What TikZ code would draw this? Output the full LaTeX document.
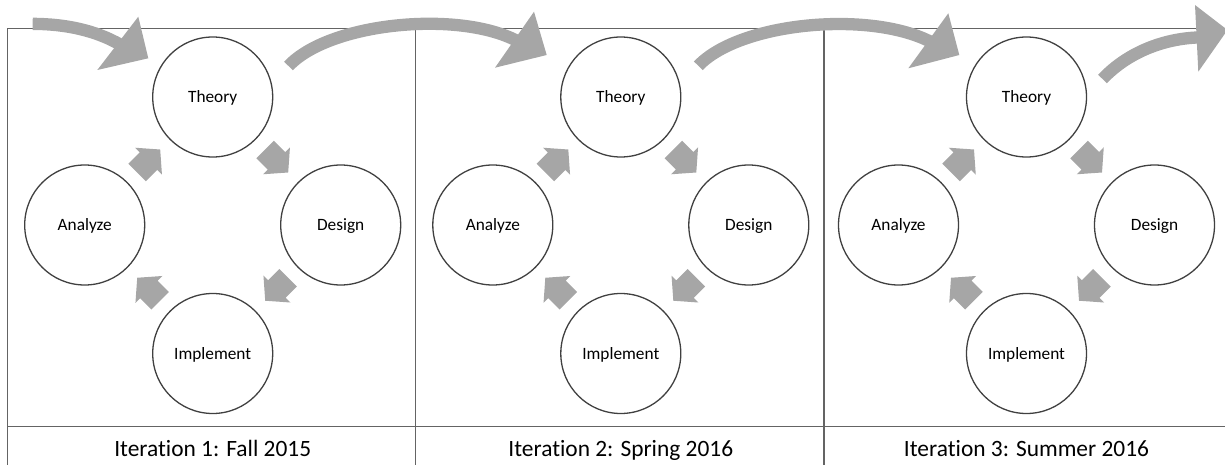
\documentclass[tikz,border=0pt]{standalone}
\usepackage{fontspec}
\setmainfont{Carlito}[Ligatures={NoCommon}]
\usetikzlibrary{calc}
\definecolor{arrowgray}{HTML}{A6A6A6}
\definecolor{linegray}{HTML}{646464}
\definecolor{circgray}{HTML}{404040}
\tikzset{
  stage/.style={circle, draw=circgray, line width=1.3pt, minimum size=120pt, inner sep=0pt,
    font=\fontsize{17.3pt}{20pt}\selectfont, text height=11.1pt, text depth=0pt},
  iterlabel/.style={anchor=base, inner sep=0pt, font=\fontsize{23.4pt}{28pt}\selectfont},
  tableline/.style={draw=linegray, line width=1.3pt},
  band/.style={draw=arrowgray, line width=12.3pt, line cap=butt},
  headfill/.style={fill=arrowgray},
  blockarrow/.pic={\fill[arrowgray] (-16.25pt,-12.4pt) -- (-0.25pt,-12.4pt) -- (-0.25pt,-19pt)
     -- (16.25pt,0pt) -- (-0.25pt,19pt) -- (-0.25pt,12.4pt) -- (-16.25pt,12.4pt) -- cycle;}
}
\begin{document}
\begin{tikzpicture}[x=1pt,y=-1pt]
\useasboundingbox (0,0) rectangle (1225,465);
% table frame
\draw[tableline] (7.5,28.3) -- (1226,28.3);
\draw[tableline] (7.5,426.7) -- (1226,426.7);
\foreach \xx in {7.5,415.5,824} \draw[tableline] (\xx,28.3) -- (\xx,466);
% panels
\foreach \i/\cx/\lab in {1/212.7/{Iteration 1: Fall 2015},2/620.8/{Iteration 2: Spring 2016},3/1026.5/{Iteration 3: Summer 2016}}{
  \node[stage] (T\i) at (\cx,97) {Theory};
  \node[stage] (D\i) at (\cx+128,225) {Design};
  \node[stage] (I\i) at (\cx,353.5) {Implement};
  \node[stage] (A\i) at (\cx-128,225) {Analyze};
  \node[iterlabel] (L\i) at (\cx,456.6) {\lab};
  \pic[rotate=45] at ($(A\i)!0.5!(T\i)$) {blockarrow};
  \pic[rotate=-45] at ($(T\i)!0.5!(D\i)$) {blockarrow};
  \pic[rotate=-135] at ($(D\i)!0.5!(I\i)$) {blockarrow};
  \pic[rotate=135] at ($(I\i)!0.5!(A\i)$) {blockarrow};
}
% big curved arrows
\coordinate (s1) at (32.7,23.85);
\coordinate (e1) at (121,45);
\coordinate (h1a) at (138.3,16.7);
\coordinate (h1t) at (148.3,58.3);
\coordinate (h1b) at (97.3,70);
\draw[band] (s1) .. controls (65,24) and (95,30) .. (e1);
\fill[headfill] (h1a) -- (h1t) -- (h1b) -- cycle;

\coordinate (s2) at (288.5,66);
\coordinate (e2) at (518,41.4);
\coordinate (h2a) at (534,11.7);
\coordinate (h2t) at (546.7,55);
\coordinate (h2b) at (495,67.7);
\draw[band] (s2) .. controls (330,22) and (460,10) .. (e2);
\fill[headfill] (h2a) -- (h2t) -- (h2b) -- cycle;

\coordinate (s3) at (698.3,65.8);
\coordinate (e3) at (932,42.5);
\coordinate (h3a) at (948.3,13.3);
\coordinate (h3t) at (959.3,55);
\coordinate (h3b) at (908.3,68.3);
\draw[band] (s3) .. controls (740,22) and (871,10) .. (e3);
\fill[headfill] (h3a) -- (h3t) -- (h3b) -- cycle;

\coordinate (s4) at (1102.5,79);
\coordinate (e4) at (1200.5,37.4);
\coordinate (h4a) at (1195,5);
\coordinate (h4t) at (1227.5,30);
\coordinate (h4b) at (1198.3,71.7);
\draw[band] (s4) .. controls (1130,50) and (1168,38) .. (e4);
\fill[headfill] (h4a) -- (h4t) -- (h4b) -- cycle;
\end{tikzpicture}
\end{document}
